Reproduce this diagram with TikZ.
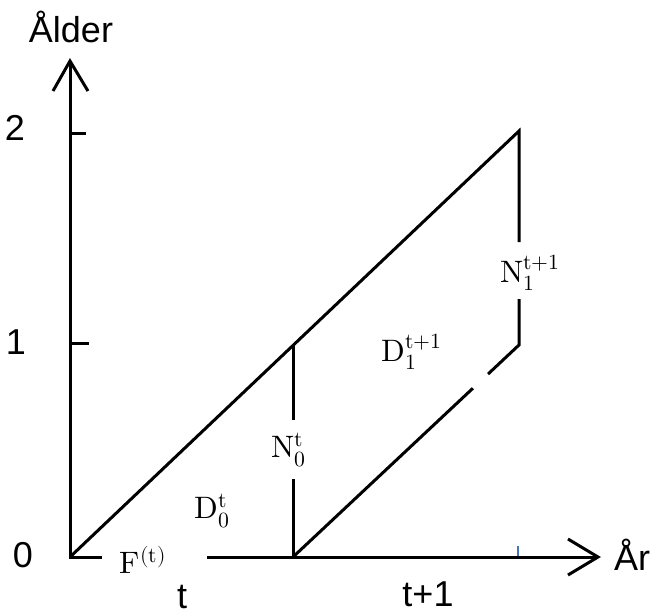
\documentclass[tikz,border=0pt]{standalone}
\usepackage{fontspec}
\usepackage{unicode-math}
\setmainfont{Liberation Sans}
\setmathfont{Latin Modern Math}
\usetikzlibrary{calc}
\definecolor{tickblue}{HTML}{4472C4}
\begin{document}
\begin{tikzpicture}[x=1pt,y=-1pt,line width=3pt,
  axlab/.style={font=\fontsize{36}{40}\selectfont,inner sep=0pt},
  mlab/.style={font=\fontsize{31}{34}\selectfont,inner sep=0pt},
  vee/.style={line join=miter}]
\useasboundingbox (0,0) rectangle (651,614);
% key points
\coordinate (O) at (70,557);
\coordinate (Ytip) at (70,61);
\coordinate (Xtip) at (598,557);
\coordinate (A1) at (293,346);
\coordinate (A2) at (519,131);
\coordinate (B0) at (293,557);
\coordinate (B1) at (519,345);
\coordinate (FgapL) at (102,557);
\coordinate (FgapR) at (207,557);
\coordinate (NgapT) at (293,420);
\coordinate (NgapB) at (293,479);
\coordinate (MgapT) at (519,242);
\coordinate (MgapB) at (519,299);
\coordinate (T2) at (86,133);
\coordinate (T2a) at (70,133);
\coordinate (T1) at (89,343);
\coordinate (T1a) at (70,343);
% axes
\draw[vee] (Ytip) -- (O) -- (FgapL);
\draw (FgapR) -- (Xtip);
\draw[vee] (53,91) -- (Ytip) -- (88,91);
\draw[vee] (568,539) -- (Xtip) -- (568,575);
\draw (T2a) -- (T2);
\draw (T1a) -- (T1);
\draw[tickblue,line width=2.5pt] (518,546) -- (518,556);
% Lexis lines
\draw[vee] (O) -- (A2) -- (MgapT);
\draw (A1) -- (NgapT);
\draw (NgapB) -- (B0);
\draw (B0) -- ($(B0)!0.796!(B1)$);
\draw[vee] ($(B0)!0.863!(B1)$) -- (B1) -- (MgapB);
% axis labels
\node[axlab] (alder) at (71,27) {Ålder};
\node[axlab] (ar) at (632,555) {År};
\node[axlab] (l2) at (15,128) {2};
\node[axlab] (l1) at (16,342) {1};
\node[axlab] (l0) at (23,555) {0};
\node[axlab,anchor=base] (lt) at (182,608) {t};
\node[axlab,anchor=base] (lt1) at (428,606) {t+1};
% region labels
\node[mlab] (F) at (143,560) {$\symup{F}^{(\symup{t})}$};
\node[mlab] (D0) at (212,511) {$\symup{D}_0^{\symup{t}}$};
\node[mlab] (N0) at (289,450) {$\symup{N}_0^{\symup{t}}$};
\node[mlab] (D1) at (412,352) {$\symup{D}_1^{\symup{t+1}}$};
\node[mlab] (N1) at (530,273) {$\symup{N}_1^{\symup{t+1}}$};
\end{tikzpicture}
\end{document}
